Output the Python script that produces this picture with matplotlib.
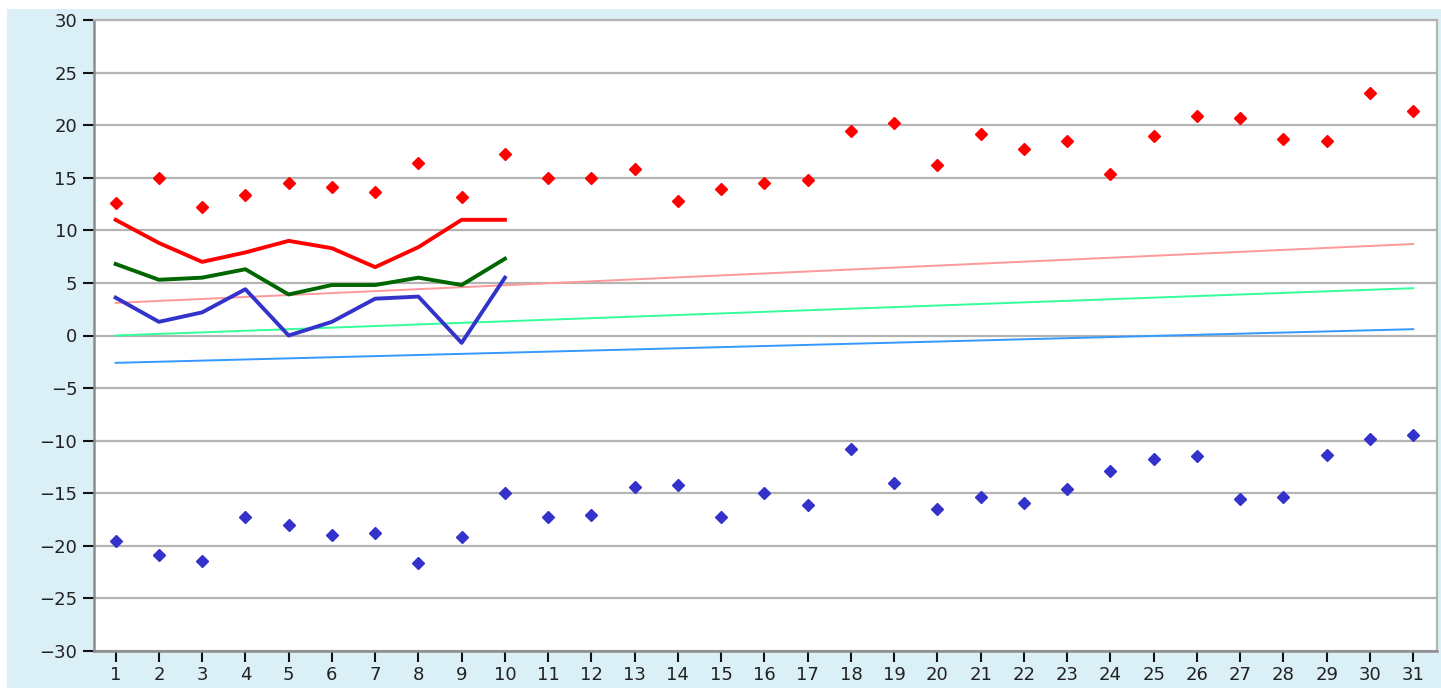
import matplotlib
matplotlib.use('Agg')
import matplotlib.pyplot as plt
from matplotlib.patches import Rectangle

# dni miesiaca
days = list(range(1, 32))

# ekstrema dobowe (punkty)
tmax = [12.6, 15.0, 12.2, 13.4, 14.5, 14.1, 13.6, 16.4, 13.2, 17.3,
        15.0, 15.0, 15.8, 12.8, 13.9, 14.5, 14.8, 19.4, 20.2, 16.2,
        19.2, 17.7, 18.5, 15.4, 19.0, 20.9, 20.7, 18.7, 18.5, 23.1, 21.3]
tmin = [-19.5, -20.9, -21.4, -17.3, -18.0, -19.0, -18.8, -21.6, -19.2, -15.0,
        -17.3, -17.1, -14.4, -14.2, -17.3, -15.0, -16.1, -10.8, -14.0, -16.5,
        -15.4, -15.9, -14.6, -12.9, -11.7, -11.5, -15.5, -15.4, -11.4, -9.8, -9.5]

# biezacy miesiac (linie)
cur_days = list(range(1, 11))
cur_max = [11.0, 8.8, 7.0, 7.9, 9.0, 8.3, 6.5, 8.4, 11.0, 11.0]
cur_avg = [6.8, 5.3, 5.5, 6.3, 3.9, 4.8, 4.8, 5.5, 4.8, 7.3]
cur_min = [3.6, 1.3, 2.2, 4.4, 0.0, 1.3, 3.5, 3.7, -0.7, 5.5]

# normy (poczatek i koniec miesiaca)
norm_days = [1, 31]
norm_max = [3.1, 8.7]
norm_avg = [0.0, 4.5]
norm_min = [-2.6, 0.6]

fig = plt.figure(figsize=(14.41, 6.88), dpi=100)
fig.patch.set_facecolor('white')
fig.patches.append(Rectangle((7 / 1441, 0), 1, 1 - 9 / 688, transform=fig.transFigure,
                             facecolor='#daeff6', edgecolor='none', zorder=-10))

ax = fig.add_axes([94 / 1441, 37 / 688, 1343 / 1441, 631 / 688])
ax.set_facecolor('white')

ax.plot(norm_days, norm_max, color='#ff9999', lw=1.4, zorder=2)
ax.plot(norm_days, norm_avg, color='#33ff99', lw=1.4, zorder=2)
ax.plot(norm_days, norm_min, color='#3399ff', lw=1.4, zorder=2)

ax.plot(cur_days, cur_max, color='#ff0000', lw=2.8, zorder=3)
ax.plot(cur_days, cur_avg, color='#006600', lw=2.8, zorder=3)
ax.plot(cur_days, cur_min, color='#3333cc', lw=2.8, zorder=3)

ax.plot(days, tmax, 'D', color='#ff0000', ms=6.5, mec='#ff0000', zorder=4)
ax.plot(days, tmin, 'D', color='#3333cc', ms=6.5, mec='#3333cc', zorder=4)

ax.set_xlim(0.5, 31.55)
ax.set_ylim(-30, 30)
ax.set_xticks(days)
ax.set_yticks(range(-30, 31, 5))
ax.yaxis.grid(True, color='#b4b4b4', lw=1.6)
ax.set_axisbelow(True)

for s in ['top', 'right']:
    ax.spines[s].set_color('#b4b4b4')
    ax.spines[s].set_linewidth(1.6)
for s in ['left', 'bottom']:
    ax.spines[s].set_color('#8c8c8c')
    ax.spines[s].set_linewidth(1.8)

ax.tick_params(axis='both', direction='out', length=8, width=1.5, color='#111111',
               labelsize=13, labelcolor='#222222')
ax.tick_params(axis='y', pad=4)
ax.tick_params(axis='x', pad=3)

fig.savefig('out.png', dpi=100)
